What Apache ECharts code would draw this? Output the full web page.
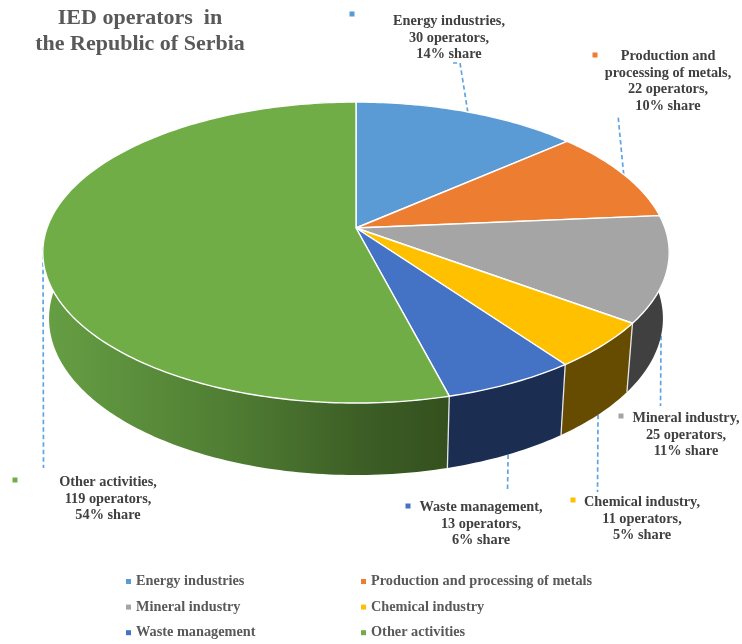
<!DOCTYPE html>
<html>
<head>
<meta charset="utf-8">
<style>html,body{margin:0;padding:0;background:#fff}#chart{width:742px;height:644px}</style>
<script src="https://cdn.jsdelivr.net/npm/echarts@6/dist/echarts.min.js"></script>
</head>
<body>
<div id="chart"></div>
<script>
// IED operators by activity, Republic of Serbia
const categories = ['Energy industries', 'Production and processing of metals', 'Mineral industry', 'Chemical industry', 'Waste management', 'Other activities'];
const operators = [30, 22, 25, 11, 13, 119];
const shares = [14, 10, 11, 5, 6, 54];
const labelNames = ['Energy industries,', 'Production and\nprocessing of metals,', 'Mineral industry,', 'Chemical industry,', 'Waste management,', 'Other activities,'];
const topColors = ['#5b9bd5', '#ed7d31', '#a5a5a5', '#ffc000', '#4472c4', '#70ad47'];

const SERIF = '"Liberation Serif", "Times New Roman", serif';
const total = operators.reduce((a, b) => a + b, 0);

// Tilted-disc projection: the near rim is larger than the far rim
const disc = { cx: 356, cy: 228, rx: 309, ry: 146.5, k: 0.163 };
const base = { cy: 293, sx: 0.98, sy: 1.04 };

function topPoint(deg) {
  const t = deg * Math.PI / 180, u = Math.sin(t), v = Math.cos(t), w = 1 + disc.k * v;
  return [disc.cx + disc.rx * u / w, disc.cy - disc.ry * v / w];
}
function basePoint(deg) {
  const p = topPoint(deg);
  return [disc.cx + (p[0] - disc.cx) * base.sx, base.cy + (p[1] - disc.cy) * base.sy];
}
function sweep(i) {
  const start = operators.slice(0, i).reduce((a, b) => a + b, 0) / total * 360;
  return [start, start + operators[i] / total * 360];
}
function arc(fn, a, b) {
  const n = Math.max(2, Math.ceil(b - a)), pts = [];
  for (let j = 0; j <= n; j++) pts.push(fn(a + (b - a) * j / n));
  return pts;
}

// Side-wall shades, one per slice
const wallFills = [
  '#2f5d86', '#a34f16', '#404040', '#664c00', '#1b2e51',
  { type: 'linear', x: 0, y: 0, x2: 1, y2: 0, colorStops: [
    { offset: 0, color: '#669f44' }, { offset: 0.45, color: '#507e33' },
    { offset: 0.8, color: '#3c5d25' }, { offset: 1, color: '#34501e' }] }
];

// Callout placement: text centre, first-line y, key square, leader end and which rim it leaves from
const callouts = [
  { tx: 449, ty: 21,  key: [352, 14],  rim: topPoint,  leader: [[460, 63], [453, 63]] },
  { tx: 668, ty: 56,  key: [595, 55],  rim: topPoint,  leader: [[618, 115]] },
  { tx: 686, ty: 418, key: [621, 416], rim: basePoint, leader: [[660.5, 406]] },
  { tx: 642, ty: 502, key: [573, 500], rim: basePoint, leader: [[597.5, 492]] },
  { tx: 481, ty: 507, key: [408, 506], rim: basePoint, leader: [[507.5, 492]] },
  { tx: 108, ty: 482, key: [15, 480],  rim: topPoint,  leader: [[43.5, 468]] }
];

const leaderSeries = {
  type: 'custom', name: 'leaders', coordinateSystem: 'none', silent: true, z: 1,
  data: operators,
  renderItem(params) {
    const i = params.dataIndex, s = sweep(i), c = callouts[i];
    return { type: 'polyline', shape: { points: [c.rim((s[0] + s[1]) / 2)].concat(c.leader) },
      style: { fill: 'none', stroke: '#5ea4e4', lineWidth: 1.7, lineDash: [4.5, 3] } };
  }
};

const wallSeries = {
  type: 'custom', name: 'walls', coordinateSystem: 'none', silent: true, z: 2,
  data: operators,
  renderItem(params) {
    const i = params.dataIndex, s = sweep(i);
    const pts = arc(topPoint, s[0], s[1]).concat(arc(basePoint, s[0], s[1]).reverse());
    const seam = s[0] > 90 ? [{ type: 'line',
      shape: { x1: topPoint(s[0])[0], y1: topPoint(s[0])[1], x2: basePoint(s[0])[0], y2: basePoint(s[0])[1] },
      style: { stroke: '#e6e6e6', lineWidth: 1.3 }, z2: 5 }] : [];
    return { type: 'group', children: [
      { type: 'polygon', shape: { points: pts }, style: { fill: wallFills[i] } }
    ].concat(seam) };
  }
};

// One series per slice so the legend entries link up by name
const topSeries = categories.map((name, i) => ({
  type: 'custom', name, coordinateSystem: 'none', silent: true, z: 3,
  itemStyle: { color: topColors[i] },
  data: [operators[i]],
  renderItem() {
    const s = sweep(i);
    return { type: 'polygon',
      shape: { points: [[disc.cx, disc.cy]].concat(arc(topPoint, s[0], s[1])) },
      style: { fill: topColors[i], stroke: '#ffffff', lineWidth: 1.4, lineJoin: 'round' } };
  }
}));

const calloutSeries = {
  type: 'custom', name: 'callouts', coordinateSystem: 'none', silent: true, z: 4,
  data: operators,
  renderItem(params) {
    const i = params.dataIndex, c = callouts[i];
    return { type: 'group', children: [
      { type: 'rect', shape: { x: c.key[0] - 2.5, y: c.key[1] - 2.5, width: 5, height: 5 }, style: { fill: topColors[i] } },
      { type: 'text', x: c.tx, y: c.ty - 8, style: {
        text: labelNames[i] + '\n' + operators[i] + ' operators,\n' + shares[i] + '% share',
        font: 'bold 14.3px ' + SERIF, fill: '#404040', align: 'center', verticalAlign: 'top', lineHeight: 16.6 } }
    ] };
  }
};

const legendBase = {
  orient: 'vertical', top: 574, padding: 0, height: 70, itemWidth: 5, itemHeight: 5, itemGap: 10.6, icon: 'rect',
  selectedMode: false,
  textStyle: { fontFamily: SERIF, fontWeight: 'bold', fontSize: 14.3, color: '#595959', lineHeight: 15 }
};

const chart = echarts.init(document.getElementById('chart'), null, { renderer: 'canvas' });
chart.setOption({
  animation: false,
  backgroundColor: '#ffffff',
  title: {
    text: 'IED operators  in\nthe Republic of Serbia', left: 140, top: 5, padding: 0, textAlign: 'center',
    textStyle: { fontFamily: SERIF, fontWeight: 'bold', fontSize: 22, color: '#595959', lineHeight: 26 }
  },
  legend: [
    Object.assign({}, legendBase, { left: 126, data: [categories[0], categories[2], categories[4]] }),
    Object.assign({}, legendBase, { left: 361, data: [categories[1], categories[3], categories[5]] })
  ],
  series: [leaderSeries, wallSeries].concat(topSeries, [calloutSeries])
});
</script>
</body>
</html>
